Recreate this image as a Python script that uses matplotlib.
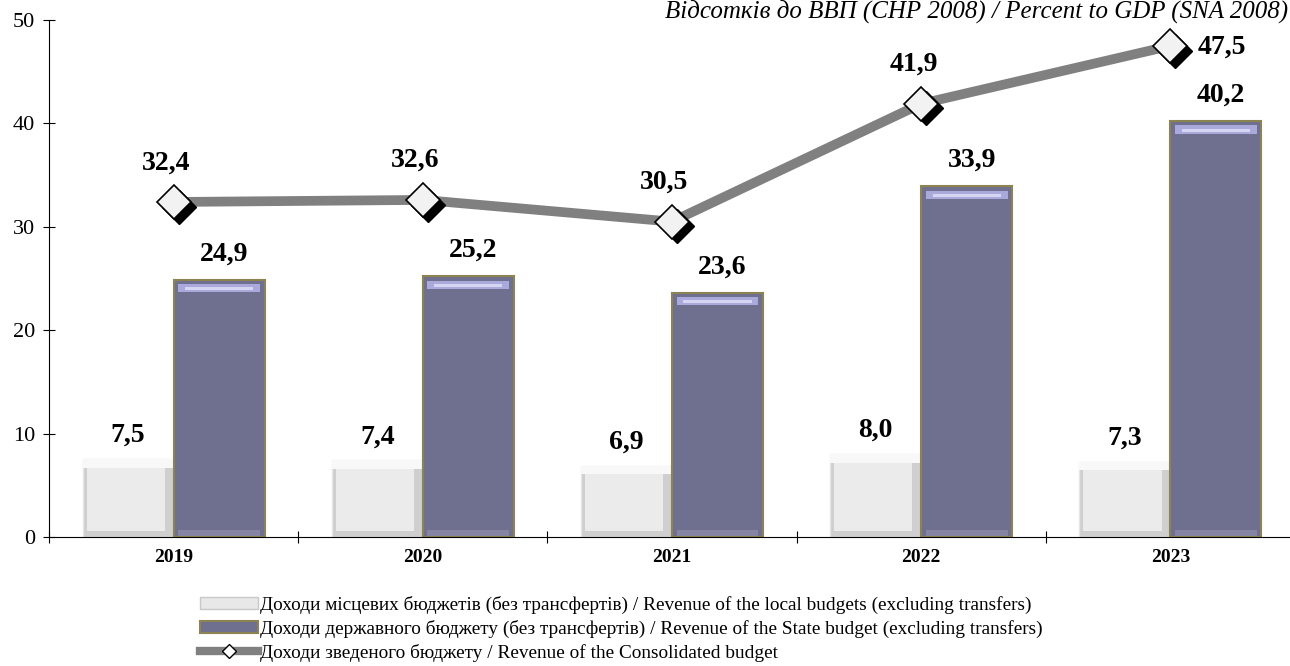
import numpy as np
import matplotlib.pyplot as plt
from matplotlib.lines import Line2D
from matplotlib.patches import Rectangle

plt.rcParams['font.family'] = ['Liberation Serif', 'DejaVu Serif']

years = ['2019', '2020', '2021', '2022', '2023']
local = [7.5, 7.4, 6.9, 8.0, 7.3]
state = [24.9, 25.2, 23.6, 33.9, 40.2]
consolidated = [32.4, 32.6, 30.5, 41.9, 47.5]

x = np.arange(len(years))
w = 0.365

fig = plt.figure(figsize=(12.9, 6.66), dpi=100)
ax = fig.add_axes([49 / 1290, 1 - 537 / 666, 1246 / 1290, 517 / 666])

# local budgets - light bevelled bars
ax.bar(x - w / 2, local, w, color='#cfcfcf', edgecolor='#e6e6e6', linewidth=1, zorder=2)
ax.bar(x - w / 2 - 0.01, [v - 1.4 for v in local], w * 0.86, bottom=0.6, color='#ebebeb',
       edgecolor='none', zorder=2)
ax.bar(x - w / 2, 0.8, w, bottom=[v - 0.8 for v in local], color='#f8f8f8',
       edgecolor='none', zorder=2)

# state budget - dark bevelled bars
ax.bar(x + w / 2, state, w, color='#6f6f90', edgecolor='#8c8450', linewidth=1.5, zorder=2)
ax.bar(x + w / 2, 0.8, w * 0.9, bottom=[v - 1.2 for v in state], color='#a9a9dc',
       edgecolor='none', zorder=3)
ax.bar(x + w / 2, 0.3, w * 0.75, bottom=[v - 1.0 for v in state], color='#d6d6f2',
       edgecolor='none', zorder=3)
ax.bar(x + w / 2, 0.6, w * 0.9, bottom=0.1, color='#8585a3', edgecolor='none', zorder=3)

# consolidated budget line
ax.plot(x, consolidated, color='#808080', linewidth=7, solid_capstyle='butt', zorder=4)
ax.plot(x + 0.02, [v - 0.45 for v in consolidated], 'D', markersize=17,
        color='black', zorder=5)
ax.plot(x, consolidated, 'D', markersize=17, markerfacecolor='#f2f2f2',
        markeredgecolor='black', markeredgewidth=1.2, zorder=6)

lab = dict(fontsize=20, fontweight='bold', ha='center', va='center')
for i in range(len(years)):
    ax.text(x[i] - w / 2, local[i] + 2.3, f'{local[i]:.1f}'.replace('.', ','), **lab)
    ax.text(x[i] + w / 2 + 0.02, state[i] + 2.5, f'{state[i]:.1f}'.replace('.', ','), **lab)
    if i == len(years) - 1:
        ax.text(x[i] + 0.11, consolidated[i] - 0.1,
                f'{consolidated[i]:.1f}'.replace('.', ','),
                fontsize=20, fontweight='bold', ha='left', va='center')
    else:
        ax.text(x[i] - 0.03, consolidated[i] + 3.8,
                f'{consolidated[i]:.1f}'.replace('.', ','), **lab)

ax.set_xlim(-0.5, len(years) - 0.5)
ax.set_ylim(0, 50)
ax.set_yticks(range(0, 51, 10))
ax.set_xticks(np.arange(-0.5, len(years), 1), minor=False)
ax.set_xticklabels([])
ax.set_xticks(x, minor=True)
ax.set_xticklabels(years, minor=True, fontsize=14, fontweight='bold')
ax.tick_params(axis='x', which='minor', length=0, pad=9)
ax.tick_params(axis='x', which='major', length=8, direction='inout')
ax.tick_params(axis='y', length=8, direction='inout', labelsize=16, pad=6)
for s in ['top', 'right']:
    ax.spines[s].set_visible(False)

fig.text(1288 / 1290, 1.0, 'Відсотків до ВВП (СНР 2008) / Percent to GDP (SNA 2008)',
         fontsize=18, fontstyle='italic', ha='right', va='top')

handles = [
    Rectangle((0, 0), 1, 1, facecolor='#e8e8e8', edgecolor='#c8c8c8'),
    Rectangle((0, 0), 1, 1, facecolor='#6f6f90', edgecolor='#8c8450', linewidth=1.5),
    Line2D([0], [0], color='#808080', linewidth=6, marker='D', markersize=7,
           markerfacecolor='white', markeredgecolor='black'),
]
labels = [
    'Доходи місцевих бюджетів (без трансфертів) / Revenue of the local budgets (excluding transfers)',
    'Доходи державного бюджету (без трансфертів) / Revenue of the State budget (excluding transfers)',
    'Доходи зведеного бюджету / Revenue of the Consolidated budget',
]
fig.legend(handles, labels, loc='upper left', bbox_to_anchor=(200 / 1290, 1 - 596 / 666),
           frameon=False, fontsize=13.9, handlelength=3.0, handleheight=0.55,
           handletextpad=0.1, labelspacing=0.3, borderpad=0, borderaxespad=0)

fig.savefig('out.png', dpi=100)
